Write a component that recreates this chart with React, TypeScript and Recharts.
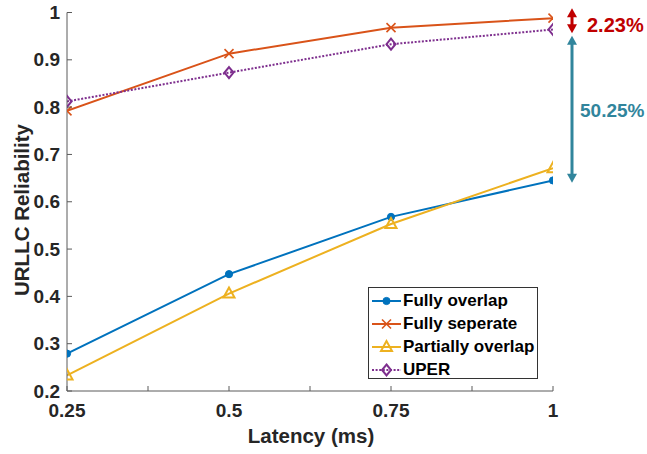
import React from "react";
import { LineChart, Line, XAxis, YAxis, Legend } from "recharts";

const latency = [0.25, 0.5, 0.75, 1];
const fullyOverlap = [0.279, 0.447, 0.568, 0.645];
const fullySeperate = [0.792, 0.913, 0.968, 0.988];
const partiallyOverlap = [0.233, 0.406, 0.553, 0.671];
const uper = [0.812, 0.873, 0.933, 0.964];

const xTicks = [0.25, 0.375, 0.5, 0.625, 0.75, 0.875, 1];
const xTickLabels = ["0.25", "0.5", "0.75", "1"];
const yTicks = [0.2, 0.3, 0.4, 0.5, 0.6, 0.7, 0.8, 0.9, 1];
const yTickLabels = ["0.2", "0.3", "0.4", "0.5", "0.6", "0.7", "0.8", "0.9", "1"];

const seriesNames = ["Fully overlap", "Fully seperate", "Partially overlap", "UPER"];
const annotationGap = ["2.23%", "50.25%"];

const W = 647;
const H = 454;
const M = { top: 12.5, right: 94, left: 0, bottom: 0 };
const Y_AXIS_W = 67;
const X_AXIS_H = 63;
const PLOT_TOP = M.top;
const PLOT_BOTTOM = H - X_AXIS_H;
const yPix = (v: number) => PLOT_TOP + ((1 - v) / 0.8) * (PLOT_BOTTOM - PLOT_TOP);

const FONT = "'Liberation Sans', Arial, Helvetica, sans-serif";
const AXIS_COLOR = "#5a5a5a";
const TEXT_COLOR = "#262626";
const C_BLUE = "#0072BD";
const C_ORANGE = "#D95319";
const C_YELLOW = "#EDB120";
const C_PURPLE = "#7E2F8E";
const TICK_LEN = 5;

const data = latency.map((x, i) => ({
  x,
  fo: fullyOverlap[i],
  fs: fullySeperate[i],
  po: partiallyOverlap[i],
  up: uper[i],
}));

type MarkerKind = "circle" | "x" | "triangle" | "diamond";

function Marker({ cx, cy, kind, color }: { cx: number; cy: number; kind: MarkerKind; color: string }) {
  if (kind === "circle") return <circle cx={cx} cy={cy} r={3.6} fill={color} stroke={color} />;
  if (kind === "x")
    return (
      <g stroke={color} strokeWidth={1.6}>
        <line x1={cx - 4.5} y1={cy - 4.5} x2={cx + 4.5} y2={cy + 4.5} />
        <line x1={cx - 4.5} y1={cy + 4.5} x2={cx + 4.5} y2={cy - 4.5} />
      </g>
    );
  if (kind === "triangle")
    return (
      <polygon
        points={`${cx},${cy - 6} ${cx - 5.5},${cy + 4} ${cx + 5.5},${cy + 4}`}
        fill="none"
        stroke={color}
        strokeWidth={2}
      />
    );
  return (
    <polygon
      points={`${cx},${cy - 5.5} ${cx + 4.5},${cy} ${cx},${cy + 5.5} ${cx - 4.5},${cy}`}
      fill="none"
      stroke={color}
      strokeWidth={2}
    />
  );
}

const makeDot = (kind: MarkerKind, color: string) => (props: any) => {
  const { cx, cy, index } = props;
  return <Marker key={`${kind}-${index}`} cx={cx} cy={cy} kind={kind} color={color} />;
};

const series = [
  { key: "fo", name: seriesNames[0], color: C_BLUE, kind: "circle" as MarkerKind, dash: undefined as string | undefined },
  { key: "fs", name: seriesNames[1], color: C_ORANGE, kind: "x" as MarkerKind, dash: undefined },
  { key: "po", name: seriesNames[2], color: C_YELLOW, kind: "triangle" as MarkerKind, dash: undefined },
  { key: "up", name: seriesNames[3], color: C_PURPLE, kind: "diamond" as MarkerKind, dash: "2 1.6" },
];

const BottomTick = (props: any) => {
  const { x, y, payload } = props;
  const idx = [0.25, 0.5, 0.75, 1].indexOf(payload.value);
  return (
    <g>
      <line x1={x} y1={y} x2={x} y2={y - TICK_LEN} stroke={AXIS_COLOR} />
      {idx >= 0 && (
        <text x={x} y={y + 26} textAnchor="middle" fontFamily={FONT} fontWeight="bold" fontSize={19} fill={TEXT_COLOR}>
          {xTickLabels[idx]}
        </text>
      )}
    </g>
  );
};

const TopTick = (props: any) => {
  const { x, y } = props;
  return <line x1={x} y1={y} x2={x} y2={y + TICK_LEN} stroke={AXIS_COLOR} />;
};

const LeftTick = (props: any) => {
  const { x, y, index } = props;
  return (
    <g>
      <line x1={x} y1={y} x2={x + TICK_LEN} y2={y} stroke={AXIS_COLOR} />
      <text x={x - 7} y={y + 6.5} textAnchor="end" fontFamily={FONT} fontWeight="bold" fontSize={19} fill={TEXT_COLOR}>
        {yTickLabels[index]}
      </text>
    </g>
  );
};

const RightTick = (props: any) => {
  const { x, y } = props;
  return <line x1={x} y1={y} x2={x - TICK_LEN} y2={y} stroke={AXIS_COLOR} />;
};

const LegendBox = () => (
  <div
    style={{
      width: 170,
      height: 92,
      boxSizing: "border-box",
      border: "1px solid #333",
      background: "#fff",
      paddingTop: 2,
      fontFamily: FONT,
      fontWeight: "bold",
      fontSize: 17,
      color: "#000",
    }}
  >
    {series.map((s) => (
      <div key={s.key} style={{ height: 22.9, display: "flex", alignItems: "center" }}>
        <svg width={34} height={20} style={{ display: "block", flex: "none" }}>
          <line x1={3} y1={10} x2={32} y2={10} stroke={s.color} strokeWidth={2} strokeDasharray={s.dash} />
          <Marker cx={17.5} cy={10} kind={s.kind} color={s.color} />
        </svg>
        <span style={{ lineHeight: "20px", whiteSpace: "nowrap" }}>{s.name}</span>
      </div>
    ))}
  </div>
);

function Arrow({ x, y1, y2, color }: { x: number; y1: number; y2: number; color: string }) {
  const hl = 9;
  const hw = 5;
  return (
    <g>
      <line x1={x} y1={y1 + hl - 1} x2={x} y2={y2 - hl + 1} stroke={color} strokeWidth={3} />
      <polygon points={`${x},${y1} ${x - hw},${y1 + hl} ${x + hw},${y1 + hl}`} fill={color} />
      <polygon points={`${x},${y2} ${x - hw},${y2 - hl} ${x + hw},${y2 - hl}`} fill={color} />
    </g>
  );
}

export default function App() {
  const red = "#C00000";
  const teal = "#31859C";
  return (
    <div style={{ position: "relative", width: W, height: H, background: "#fff" }}>
      <style>{"body{margin:0}"}</style>
      <LineChart width={W} height={H} data={data} margin={M}>
        <XAxis
          xAxisId="b"
          dataKey="x"
          type="number"
          domain={[0.25, 1]}
          ticks={xTicks}
          interval={0}
          height={X_AXIS_H}
          tickSize={0}
          tickMargin={0}
          tick={BottomTick}
          tickLine={false}
          axisLine={{ stroke: AXIS_COLOR }}
          allowDataOverflow
        />
        <XAxis
          xAxisId="t"
          dataKey="x"
          orientation="top"
          type="number"
          domain={[0.25, 1]}
          ticks={xTicks}
          interval={0}
          height={0}
          tickSize={0}
          tickMargin={0}
          tick={TopTick}
          tickLine={false}
          axisLine={{ stroke: AXIS_COLOR }}
          allowDataOverflow
        />
        <YAxis
          yAxisId="l"
          type="number"
          domain={[0.2, 1]}
          ticks={yTicks}
          interval={0}
          width={Y_AXIS_W}
          tickSize={0}
          tickMargin={0}
          tick={LeftTick}
          tickLine={false}
          axisLine={{ stroke: AXIS_COLOR }}
          allowDataOverflow
        />
        <YAxis
          yAxisId="r"
          orientation="right"
          type="number"
          domain={[0.2, 1]}
          ticks={yTicks}
          interval={0}
          width={0}
          tickSize={0}
          tickMargin={0}
          tick={RightTick}
          tickLine={false}
          axisLine={{ stroke: AXIS_COLOR }}
          allowDataOverflow
        />
        {series.map((s) => (
          <Line
            key={s.key}
            xAxisId="b"
            yAxisId="l"
            type="linear"
            dataKey={s.key}
            name={s.name}
            stroke={s.color}
            strokeWidth={2}
            strokeDasharray={s.dash}
            dot={makeDot(s.kind, s.color)}
            activeDot={false}
            isAnimationActive={false}
          />
        ))}
        <Legend
          layout="horizontal"
          verticalAlign="middle"
          align="center"
          content={() => <LegendBox />}
          wrapperStyle={{ position: "absolute", left: 368, top: 287, width: 170, height: 92, margin: 0 }}
        />
      </LineChart>
      <svg
        width={W}
        height={H}
        style={{ position: "absolute", left: 0, top: 0, pointerEvents: "none" }}
      >
        <text
          x={29}
          y={210}
          transform="rotate(-90 29 210)"
          textAnchor="middle"
          fontFamily={FONT}
          fontWeight="bold"
          fontSize={20.5}
          fill={TEXT_COLOR}
        >
          URLLC Reliability
        </text>
        <text x={311} y={443} textAnchor="middle" fontFamily={FONT} fontWeight="bold" fontSize={20.5} fill={TEXT_COLOR}>
          Latency (ms)
        </text>
        <Arrow x={572} y1={yPix(1.009)} y2={yPix(0.956)} color={red} />
        <Arrow x={572} y1={yPix(0.951)} y2={yPix(0.64)} color={teal} />
        <text x={587} y={32} fontFamily={FONT} fontWeight="bold" fontSize={20} fill={red}>
          {annotationGap[0]}
        </text>
        <text x={580} y={117} fontFamily={FONT} fontWeight="bold" fontSize={19} fill={teal}>
          {annotationGap[1]}
        </text>
      </svg>
    </div>
  );
}
